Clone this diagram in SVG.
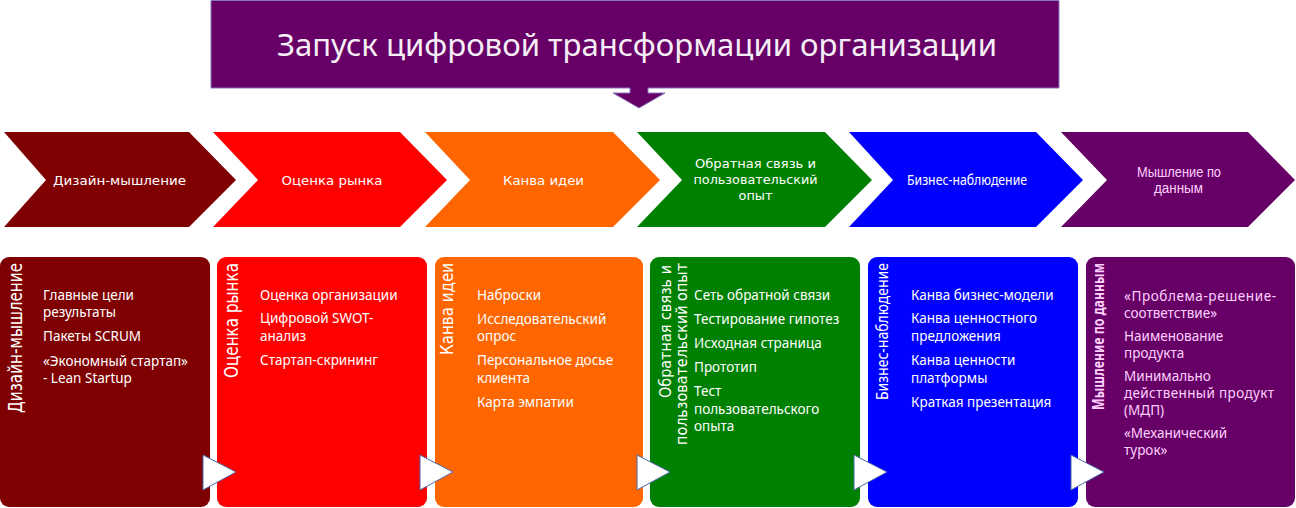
<svg xmlns="http://www.w3.org/2000/svg" width="1296" height="508" viewBox="0 0 1296 508">
<style>
.gothic{font-family:"DejaVu Sans","Noto Sans",sans-serif;fill:#ffffff}
.cal{font-family:"Noto Sans","Open Sans",sans-serif}
.lib{font-family:"Liberation Sans","Noto Sans",sans-serif}
.chev{font-size:13px}
.body{font-size:13.5px;fill:#ffffff}
.pink{fill:#ffd0ff}
.tri{fill:#ffffff;stroke:#4a68a8;stroke-width:1}
</style>
<rect width="1296" height="508" fill="#ffffff"/>
<g id="title">
<path d="M211,0.5 H1059 V88 H648 V93 H665 L639,108 L613,93 H630 V88 H211 Z" fill="#660066" stroke="#8a74bc" stroke-width="1"/>
<text class="cal" x="637" y="56" font-size="31" fill="#f6eef6" text-anchor="middle" textLength="720" lengthAdjust="spacingAndGlyphs">Запуск цифровой трансформации организации</text>
</g>
<g id="chevrons">
<g id="chev1"><path d="M4,132 H189 L236,180 L189,227 H4 L46,180 Z" fill="#7f0000"/>
<text class="gothic chev" x="119.5" y="185" text-anchor="middle" textLength="133" lengthAdjust="spacingAndGlyphs">Дизайн-мышление</text></g>
<g id="chev2"><path d="M213,132 H400 L447,180 L400,227 H213 L258,180 Z" fill="#ff0000"/>
<text class="gothic chev" x="332" y="185" text-anchor="middle" textLength="101" lengthAdjust="spacingAndGlyphs">Оценка рынка</text></g>
<g id="chev3"><path d="M425,132 H613 L660,180 L613,227 H425 L470,180 Z" fill="#ff6600"/>
<text class="gothic chev" x="543.5" y="185" text-anchor="middle" textLength="81" lengthAdjust="spacingAndGlyphs">Канва идеи</text></g>
<g id="chev4"><path d="M637,132 H825 L872,180 L825,227 H637 L682,180 Z" fill="#008000"/>
<text class="gothic chev" x="755.5" y="168" text-anchor="middle" textLength="121" lengthAdjust="spacingAndGlyphs">Обратная связь и</text>
<text class="gothic chev" x="755.5" y="184" text-anchor="middle" textLength="124" lengthAdjust="spacingAndGlyphs">пользовательский</text>
<text class="gothic chev" x="755.5" y="200" text-anchor="middle" textLength="34" lengthAdjust="spacingAndGlyphs">опыт</text></g>
<g id="chev5"><path d="M849,132 H1036 L1083,180 L1036,227 H849 L893,180 Z" fill="#0000ff"/>
<text class="cal" x="967" y="185" font-size="14" fill="#ffffff" text-anchor="middle" textLength="120" lengthAdjust="spacingAndGlyphs">Бизнес-наблюдение</text></g>
<g id="chev6"><path d="M1061,132 H1248 L1295,180 L1248,227 H1061 L1107,180 Z" fill="#660066"/>
<text class="lib pink" x="1179" y="177" font-size="14" text-anchor="middle" textLength="84" lengthAdjust="spacingAndGlyphs">Мышление по</text>
<text class="lib pink" x="1178.5" y="193" font-size="14" text-anchor="middle" textLength="49" lengthAdjust="spacingAndGlyphs">данным</text></g>
</g>
<g id="card1">
<rect x="0" y="257" width="210" height="250" rx="9" fill="#7f0000"/>
<text class="gothic" font-size="19" transform="translate(22,263) rotate(-90)" text-anchor="end" textLength="150" lengthAdjust="spacingAndGlyphs">Дизайн-мышление</text>
<text class="cal body" x="43" y="300">Главные цели</text>
<text class="cal body" x="43" y="317">результаты</text>
<text class="cal body" x="43" y="341">Пакеты SCRUM</text>
<text class="cal body" x="43" y="366">«Экономный стартап»</text>
<text class="cal body" x="43" y="383">- Lean Startup</text>
</g>
<g id="card2">
<rect x="217" y="257" width="210" height="250" rx="9" fill="#ff0000"/>
<text class="gothic" font-size="19" transform="translate(238,263) rotate(-90)" text-anchor="end" textLength="115" lengthAdjust="spacingAndGlyphs">Оценка рынка</text>
<text class="cal body" x="260" y="300">Оценка организации</text>
<text class="cal body" x="260" y="323">Цифровой SWOT-</text>
<text class="cal body" x="260" y="341">анализ</text>
<text class="cal body" x="260" y="365">Стартап-скрининг</text>
</g>
<g id="card3">
<rect x="435" y="257" width="208" height="250" rx="9" fill="#ff6600"/>
<text class="gothic" font-size="17" transform="translate(453,263) rotate(-90)" text-anchor="end" textLength="92" lengthAdjust="spacingAndGlyphs">Канва идеи</text>
<text class="cal body" x="477" y="300">Наброски</text>
<text class="cal body" x="477" y="324">Исследовательский</text>
<text class="cal body" x="477" y="341">опрос</text>
<text class="cal body" x="477" y="365">Персональное досье</text>
<text class="cal body" x="477" y="383">клиента</text>
<text class="cal body" x="477" y="407">Карта эмпатии</text>
</g>
<g id="card4">
<rect x="650" y="257" width="210" height="250" rx="9" fill="#008000"/>
<text class="gothic" font-size="16" transform="translate(671,265) rotate(-90)" text-anchor="end" textLength="133" lengthAdjust="spacingAndGlyphs">Обратная связь и</text>
<text class="gothic" font-size="16" transform="translate(687,263) rotate(-90)" text-anchor="end" textLength="182" lengthAdjust="spacingAndGlyphs">пользовательский опыт</text>
<text class="cal body" x="694" y="300">Сеть обратной связи</text>
<text class="cal body" x="694" y="324">Тестирование гипотез</text>
<text class="cal body" x="694" y="348">Исходная страница</text>
<text class="cal body" x="694" y="372">Прототип</text>
<text class="cal body" x="694" y="396">Тест</text>
<text class="cal body" x="694" y="414">пользовательского</text>
<text class="cal body" x="694" y="431">опыта</text>
</g>
<g id="card5">
<rect x="868" y="257" width="210" height="250" rx="9" fill="#0000ff"/>
<text class="cal" font-size="16" fill="#ffffff" transform="translate(888,263) rotate(-90)" text-anchor="end" textLength="137" lengthAdjust="spacingAndGlyphs">Бизнес-наблюдение</text>
<text class="cal body" x="911" y="300">Канва бизнес-модели</text>
<text class="cal body" x="911" y="323">Канва ценностного</text>
<text class="cal body" x="911" y="341">предложения</text>
<text class="cal body" x="911" y="365">Канва ценности</text>
<text class="cal body" x="911" y="383">платформы</text>
<text class="cal body" x="911" y="407">Краткая презентация</text>
</g>
<g id="card6">
<rect x="1086" y="257" width="209" height="250" rx="9" fill="#660066"/>
<text class="cal pink" font-size="16" font-weight="bold" transform="translate(1104,263) rotate(-90)" text-anchor="end" textLength="147" lengthAdjust="spacingAndGlyphs">Мышление по данным</text>
<text class="cal body pink" x="1124" y="301" textLength="152" lengthAdjust="spacing">«Проблема-решение-</text>
<text class="cal body pink" x="1124" y="318">соответствие»</text>
<text class="cal body pink" x="1124" y="341">Наименование</text>
<text class="cal body pink" x="1124" y="358">продукта</text>
<text class="cal body pink" x="1124" y="381">Минимально</text>
<text class="cal body pink" x="1124" y="398" textLength="150" lengthAdjust="spacing">действенный продукт</text>
<text class="cal body pink" x="1124" y="415">(МДП)</text>
<text class="cal body pink" x="1124" y="438">«Механический</text>
<text class="cal body pink" x="1124" y="455">турок»</text>
</g>
<g id="connectors">
<polygon class="tri" points="203,455 236,472 203,490"/>
<polygon class="tri" points="420,455 453,472 420,490"/>
<polygon class="tri" points="637,455 670,472 637,490"/>
<polygon class="tri" points="854,455 887,472 854,490"/>
<polygon class="tri" points="1071,455 1104,472 1071,490"/>
</g>
</svg>
